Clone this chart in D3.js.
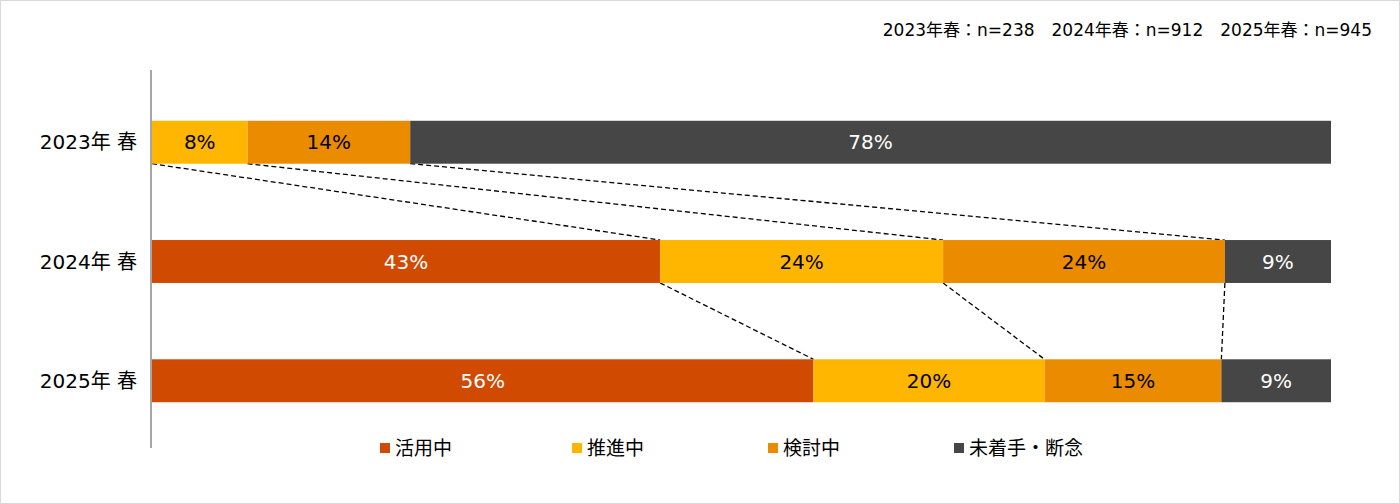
<!DOCTYPE html>
<html><head><meta charset="utf-8">
<script src="https://cdn.jsdelivr.net/npm/d3@7"></script>
<style>body{margin:0;background:#fff}</style>
</head><body>
<svg id="chart" width="1400" height="504"></svg>
<script>
var years = ['2023年 春', '2024年 春', '2025年 春']
var categories = ['活用中', '推進中', '検討中', '未着手・断念']
var values = [
  [0, 8.1, 13.8, 78.1],
  [43.1, 24.0, 23.9, 9.0],
  [56.1, 19.6, 15.0, 9.3]
]
var labels = [
  ['', '8%', '14%', '78%'],
  ['43%', '24%', '24%', '9%'],
  ['56%', '20%', '15%', '9%']
]
var note = '2023年春：n=238　2024年春：n=912　2025年春：n=945'

var colors = ['#D04A02', '#FFB600', '#EB8C00', '#464646']
var textColors = ['#fff', '#000', '#000', '#fff']
var font = "'DejaVu Sans','Noto Sans CJK JP',sans-serif"

var svg = d3.select('#chart').style('font-family', font)

svg.append('rect').attr('x', 0.5).attr('y', 0.5).attr('width', 1399).attr('height', 503)
  .attr('fill', 'none').attr('stroke', '#d9d9d9')

var x = d3.scaleLinear().domain([0, 100]).range([152, 1331])
var y = d3.scaleBand().domain(years).range([85, 438]).paddingInner(0.64).paddingOuter(0.3)

// stacked positions
var rows = values.map(function(v, r) {
  var c = 0
  return v.map(function(d, i) { var s = c; c += d; return {r: r, i: i, x0: s, x1: c, label: labels[r][i]} })
})

// connector lines
for (var r = 0; r < rows.length - 1; r++) {
  for (var i = 1; i < categories.length; i++) {
    svg.append('line')
      .attr('x1', x(rows[r][i].x0)).attr('y1', y(years[r]) + y.bandwidth())
      .attr('x2', x(rows[r + 1][i].x0)).attr('y2', y(years[r + 1]))
      .attr('stroke', '#000').attr('stroke-width', 1.3).attr('stroke-dasharray', '5,3')
  }
}

rows.forEach(function(row, r) {
  var g = svg.append('g')
  var seg = row.filter(function(d) { return d.x1 > d.x0 })
  g.selectAll('rect').data(seg).enter().append('rect')
    .attr('x', function(d) { return x(d.x0) })
    .attr('y', y(years[r]))
    .attr('width', function(d) { return x(d.x1) - x(d.x0) })
    .attr('height', y.bandwidth())
    .attr('fill', function(d) { return colors[d.i] })
  g.selectAll('text').data(seg).enter().append('text')
    .attr('x', function(d) { return (x(d.x0) + x(d.x1)) / 2 })
    .attr('y', y(years[r]) + y.bandwidth() / 2)
    .attr('dy', '0.36em')
    .attr('text-anchor', 'middle')
    .style('font-size', '20px')
    .attr('fill', function(d) { return textColors[d.i] })
    .text(function(d) { return d.label })
  svg.append('text')
    .attr('x', 137).attr('y', y(years[r]) + y.bandwidth() / 2).attr('dy', '0.36em')
    .attr('text-anchor', 'end').style('font-size', '20px').text(years[r])
})

svg.append('line').attr('x1', 151).attr('x2', 151).attr('y1', 70).attr('y2', 448)
  .attr('stroke', '#888').attr('stroke-width', 1.5)

// legend
var legendX = [380, 572, 768, 954]
var lg = svg.selectAll('.lg').data(categories).enter().append('g')
  .attr('transform', function(d, i) { return 'translate(' + legendX[i] + ',448)' })
lg.append('rect').attr('x', 0).attr('y', -5).attr('width', 10).attr('height', 10)
  .attr('fill', function(d, i) { return colors[i] })
lg.append('text').attr('x', 15).attr('dy', '0.36em').style('font-size', '19px').text(function(d) { return d })

svg.append('text').attr('x', 1372).attr('y', 30).attr('dy', '0.36em')
  .attr('text-anchor', 'end').style('font-size', '17px').text(note)
</script>
</body></html>
